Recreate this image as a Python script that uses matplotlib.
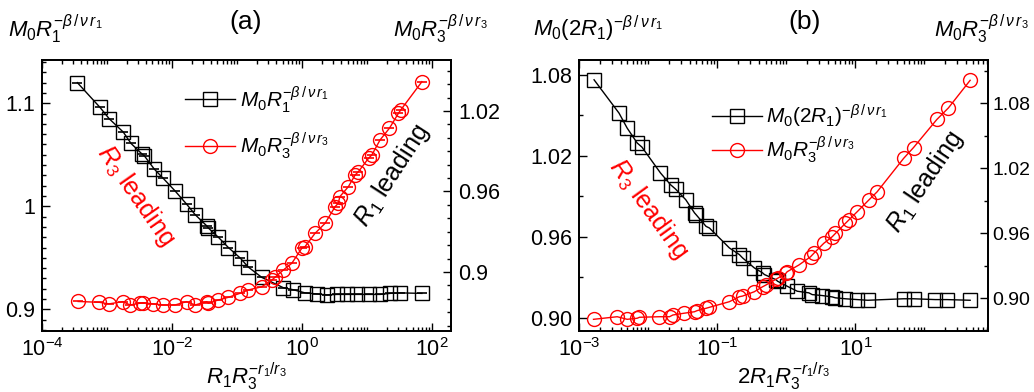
import numpy as np
import matplotlib
matplotlib.use("Agg")
import matplotlib.pyplot as plt
from matplotlib.ticker import (LogLocator, FixedLocator, MultipleLocator,
                               FormatStrFormatter, NullFormatter,
                               LogFormatterSciNotation)

plt.rcParams['font.family'] = ['Liberation Sans', 'DejaVu Sans']
plt.rcParams['mathtext.fontset'] = 'custom'
plt.rcParams['mathtext.rm'] = 'Liberation Sans'
plt.rcParams['mathtext.it'] = 'Liberation Sans:italic'
plt.rcParams['mathtext.bf'] = 'Liberation Sans:bold'

RED = "#ff0000"

# ---- panel (a) data ----
xa_sq = [3.5e-4, 7.8e-4, 1.08e-3, 1.78e-3, 2.34e-3, 3.42e-3, 3.75e-3, 5.35e-3,
         7.35e-3, 1.11e-2, 1.68e-2, 2.26e-2, 3.42e-2, 3.61e-2, 5.15e-2, 7.35e-2,
         0.111, 0.149, 0.24, 0.515, 0.735, 1.11, 1.68, 2.40, 3.42, 4.87, 6.95,
         10.5, 15.8, 22.6, 32.2, 69.5]
ya_sq = [1.120, 1.096, 1.085, 1.072, 1.061, 1.051, 1.049, 1.036,
         1.027, 1.015, 1.002, 0.992, 0.981, 0.979, 0.970, 0.960,
         0.950, 0.941, 0.931, 0.921, 0.919, 0.916, 0.915, 0.914, 0.9145, 0.9145,
         0.9145, 0.9145, 0.9145, 0.9155, 0.916, 0.9155]
xa_ci = [3.6e-4, 7.6e-4, 1.07e-3, 1.75e-3, 2.26e-3, 3.22e-3, 3.6e-3, 5.15e-3,
         7.35e-3, 1.11e-2, 1.68e-2, 2.26e-2, 3.42e-2, 3.61e-2, 5.15e-2, 7.35e-2,
         0.111, 0.149, 0.24, 0.342, 0.385, 0.515, 0.695, 0.99, 1.11, 1.58, 2.26,
         3.22, 3.6, 3.8, 5.15, 6.54, 7.35, 10.5, 11.8, 15.8, 22.0, 30.3, 32.8, 69.5]
ya_ci = [0.8780, 0.8774, 0.8762, 0.8779, 0.8754, 0.8767, 0.8771, 0.8762,
         0.8754, 0.8754, 0.8779, 0.8754, 0.8779, 0.8767, 0.8791, 0.8811,
         0.8841, 0.8866, 0.8890, 0.8940, 0.8961, 0.9015, 0.9065, 0.9177, 0.9189,
         0.9288, 0.9363, 0.9487, 0.9512, 0.9561, 0.9636, 0.9723, 0.9748, 0.9847,
         0.9872, 0.9984, 1.0071, 1.0183, 1.0207, 1.0418]

# ---- panel (b) data ----
xb_sq = [1.65e-3, 3.79e-3, 4.97e-3, 6.95e-3, 8.13e-3, 1.51e-2, 2.11e-2, 2.49e-2,
         3.5e-2, 4.69e-2, 4.94e-2, 6.89e-2, 7.71e-2, 0.150, 0.209, 0.233, 0.344,
         0.454, 0.481, 0.706, 0.748, 1.03, 1.44, 2.12, 2.37, 3.31, 4.61, 5.14,
         7.17, 10.6, 15.1, 49.8, 69.5, 143, 211, 458]
yb_sq = [1.0763, 1.0516, 1.0405, 1.0294, 1.0264, 1.0072, 0.9985, 0.9953,
         0.9874, 0.9776, 0.9763, 0.9676, 0.9664, 0.9516, 0.9467, 0.9442, 0.9368,
         0.9331, 0.9319, 0.9281, 0.9269, 0.9232, 0.9195, 0.9183, 0.9170, 0.9163,
         0.9153, 0.9146, 0.9139, 0.9133, 0.9128, 0.9139, 0.9139, 0.9133, 0.9133,
         0.9128]
xb_ci = [1.62e-3, 3.57e-3, 4.97e-3, 6.95e-3, 7.5e-3, 1.46e-2, 2.04e-2, 2.28e-2,
         3.28e-2, 4.69e-2, 5.1e-2, 6.89e-2, 7.71e-2, 0.150, 0.209, 0.233, 0.344,
         0.454, 0.507, 0.706, 0.748, 0.986, 1.03, 1.52, 2.24, 2.50, 3.48, 4.61,
         5.14, 7.17, 8.0, 10.6, 15.6, 20.6, 49.8, 69.5, 151, 222, 458]
yb_ci = [0.8803, 0.8827, 0.8803, 0.8813, 0.8822, 0.8827, 0.8827, 0.8843,
         0.8859, 0.8873, 0.8883, 0.8905, 0.8914, 0.8966, 0.9012, 0.9018, 0.9058,
         0.9104, 0.9120, 0.9173, 0.9182, 0.9228, 0.9243, 0.9305, 0.9381, 0.9413,
         0.9505, 0.9566, 0.9597, 0.9690, 0.9720, 0.9797, 0.9905, 0.9981, 1.0290,
         1.0391, 1.0650, 1.0757, 1.1012]

xticks_a = [1e-4, 1e-2, 1e0, 1e2]
xticks_b = [1e-3, 1e-1, 1e1, 1e3]

lab_a1 = r"$M_0R_1^{-\beta\,/\,\nu\, r_1}$"
lab_a3 = r"$M_0R_3^{-\beta\,/\,\nu\, r_3}$"
lab_b1 = r"$M_0(2R_1)^{-\beta\,/\,\nu\, r_1}$"
lab_b3 = r"$M_0R_3^{-\beta\,/\,\nu\, r_3}$"


def style_axes(ax, ax2, xticks, right_size=15.5, right_pad=5):
    ax.set_xscale("log")
    ax.xaxis.set_major_locator(FixedLocator(xticks))
    ax.xaxis.set_major_formatter(LogFormatterSciNotation())
    ax.xaxis.set_minor_locator(LogLocator(base=10, subs=np.arange(1, 10),
                                          numticks=30))
    ax.xaxis.set_minor_formatter(NullFormatter())
    for a in (ax, ax2):
        a.tick_params(which="major", direction="in", length=6, width=1,
                      labelsize=15.5, pad=5)
        a.tick_params(which="minor", direction="in", length=3, width=1)
    ax2.tick_params(axis="y", labelsize=right_size, pad=right_pad)
    ax.tick_params(which="both", top=True, right=False)
    ax2.tick_params(which="both", left=False, right=True)
    for a in (ax, ax2):
        for s in a.spines.values():
            s.set_linewidth(1.3)


fig = plt.figure(figsize=(10.34, 3.92), dpi=100)

# ================= panel (a) =================
ax = fig.add_axes([0.0406, 0.1556, 0.3956, 0.6914])
ax2 = ax.twinx()
h1, = ax.plot(xa_sq, ya_sq, color="black", lw=1, marker="s", ms=9.5,
              mfc="none", mec="black", mew=1)
ax.plot(xa_sq, ya_sq, ls="none", marker="_", ms=7, color="black", mew=1.2)
h2, = ax2.plot(xa_ci, ya_ci, color=RED, lw=1, marker="o", ms=10,
               mfc="none", mec=RED, mew=1)
ax2.plot(xa_ci, ya_ci, ls="none", marker="_", ms=7, color=RED, mew=1.2)
style_axes(ax, ax2, xticks_a)
ax.set_xlim(1e-4, 195)
ax.set_ylim(0.879, 1.142)
ax2.set_ylim(0.856, 1.058)
ax.yaxis.set_major_locator(FixedLocator([0.9, 1.0, 1.1]))
ax.yaxis.set_major_formatter(FormatStrFormatter("%g"))
ax.yaxis.set_minor_locator(MultipleLocator(0.01))
ax2.yaxis.set_major_locator(FixedLocator([0.9, 0.96, 1.02]))
ax2.yaxis.set_major_formatter(FormatStrFormatter("%g"))
ax2.yaxis.set_minor_locator(MultipleLocator(0.01))
ax.set_xlabel(r"$R_1R_3^{-r_1/r_3}$", fontsize=16, labelpad=0)
ax.legend([h1, h2], [lab_a1, lab_a3], loc="upper left",
          bbox_to_anchor=(0.325, 0.95), frameon=False, fontsize=15,
          handlelength=2.4, handletextpad=0.2, labelspacing=0.75,
          borderpad=0, numpoints=1)
ax.text(0.23, 0.50, r"$R_3$ leading", transform=ax.transAxes, color=RED,
        fontsize=18, rotation=-55, ha="center", va="center")
ax.text(0.855, 0.575, r"$R_1$ leading", transform=ax.transAxes, color="black",
        fontsize=18, rotation=57, ha="center", va="center")
fig.text(0.238, 0.945, "(a)", fontsize=19, ha="center", va="center")
fig.text(0.008, 0.925, lab_a1, fontsize=16, ha="left", va="center")
fig.text(0.380, 0.925, lab_a3, fontsize=16, ha="left", va="center")

# ================= panel (b) =================
bx = fig.add_axes([0.560, 0.1556, 0.3955, 0.6914])
bx2 = bx.twinx()
g1, = bx.plot(xb_sq, yb_sq, color="black", lw=1, marker="s", ms=9.5,
              mfc="none", mec="black", mew=1)
g2, = bx2.plot(xb_ci, yb_ci, color=RED, lw=1, marker="o", ms=10,
               mfc="none", mec=RED, mew=1)
style_axes(bx, bx2, xticks_b, right_size=14, right_pad=3)
bx.set_xlim(1e-3, 830)
bx.set_ylim(0.890, 1.091)
bx2.set_ylim(0.8695, 1.12)
bx.yaxis.set_major_locator(FixedLocator([0.90, 0.96, 1.02, 1.08]))
bx.yaxis.set_major_formatter(FormatStrFormatter("%.2f"))
bx.yaxis.set_minor_locator(MultipleLocator(0.03))
bx2.yaxis.set_major_locator(FixedLocator([0.90, 0.96, 1.02, 1.08]))
bx2.yaxis.set_major_formatter(FormatStrFormatter("%.2f"))
bx2.yaxis.set_minor_locator(MultipleLocator(0.03))
bx.set_xlabel(r"$2R_1R_3^{-r_1/r_3}$", fontsize=16, labelpad=0)
bx.legend([g1, g2], [lab_b1, lab_b3], loc="upper left",
          bbox_to_anchor=(0.30, 0.88), frameon=False, fontsize=15,
          handlelength=2.4, handletextpad=0.2, labelspacing=0.2,
          borderpad=0, numpoints=1)
bx.text(0.17, 0.45, r"$R_3$ leading", transform=bx.transAxes, color=RED,
        fontsize=18, rotation=-54, ha="center", va="center")
bx.text(0.845, 0.55, r"$R_1$ leading", transform=bx.transAxes, color="black",
        fontsize=18, rotation=56, ha="center", va="center")
fig.text(0.778, 0.945, "(b)", fontsize=19, ha="center", va="center")
fig.text(0.515, 0.925, lab_b1, fontsize=16, ha="left", va="center")
fig.text(0.903, 0.925, lab_b3, fontsize=16, ha="left", va="center")

fig.savefig("out.png", dpi=100)
